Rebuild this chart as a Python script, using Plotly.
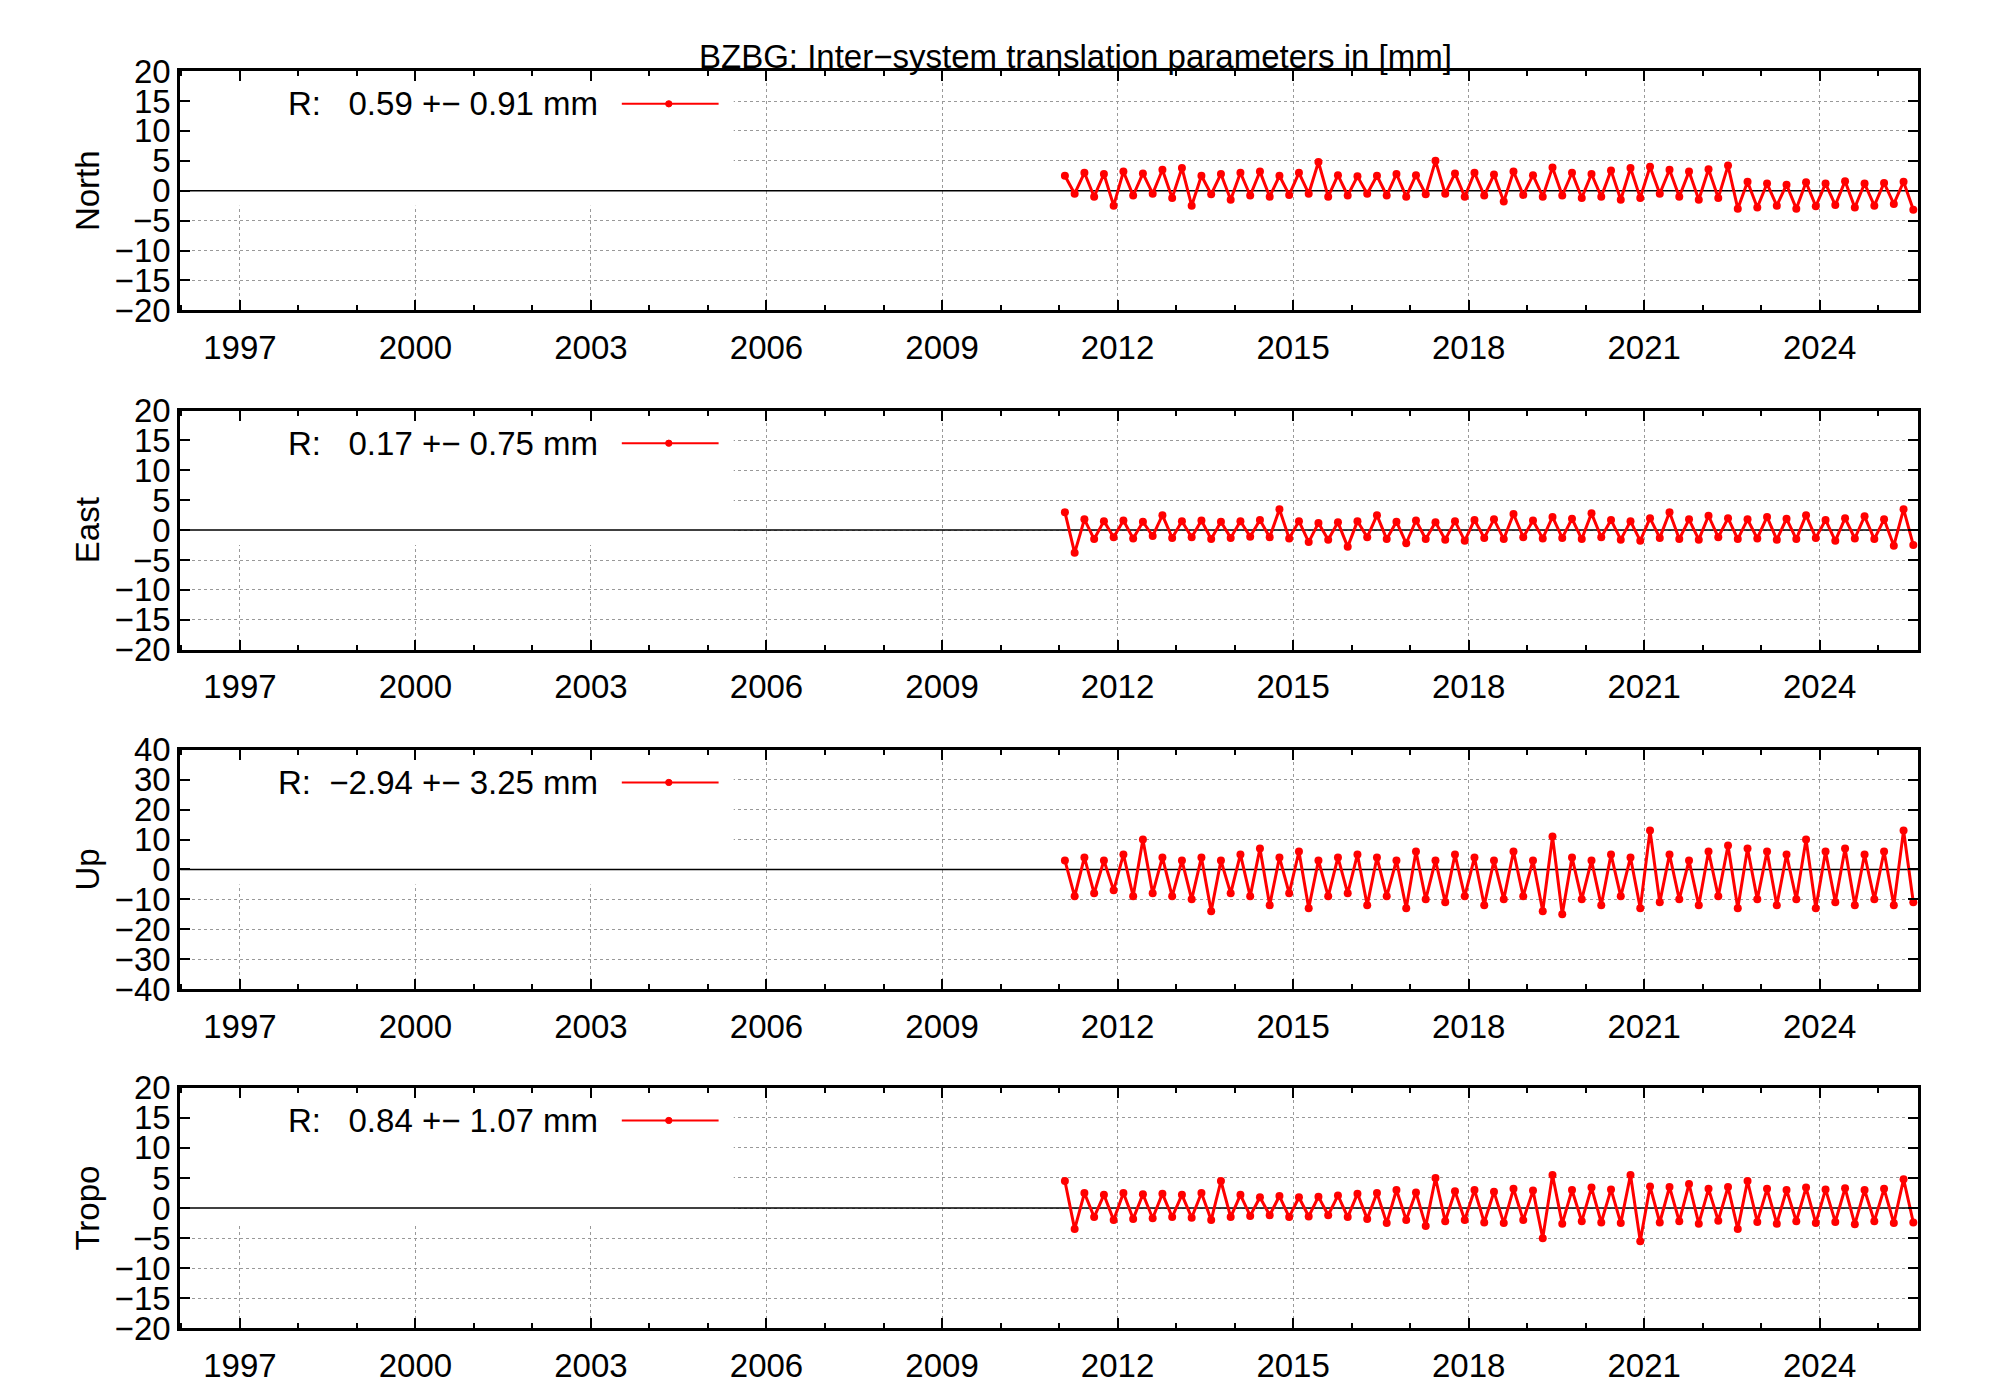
import numpy as np
import plotly.graph_objects as go

title = "BZBG: Inter\u2212system translation parameters in [mm]"
components = ["North", "East", "Up", "Tropo"]
legend_texts = ["R:   0.59 +\u2212 0.91 mm", "R:   0.17 +\u2212 0.75 mm",
                "R:  \u22122.94 +\u2212 3.25 mm", "R:   0.84 +\u2212 1.07 mm"]
yranges = [20, 20, 40, 20]
ydticks = [5, 5, 10, 5]
t_start, t_end = 2011.1, 2025.6

north = [2.5,-0.5,3,-1,2.8,-2.5,3.2,-0.8,2.9,-0.5,3.5,-1.2,3.8,-2.5,2.5,-0.6,
         2.8,-1.5,3,-0.8,3.2,-1,2.5,-0.7,3,-0.5,4.8,-1,2.6,-0.8,2.4,
         -0.5,2.5,-0.8,2.8,-1,2.6,-0.6,5,-0.5,2.9,-1,3,-0.8,2.7,-1.8,3.2,-0.7,2.6,-1,3.9,-0.8,3,-1.2,2.8,-1,3.4,-1.5,3.8,-1.2,4,
         -0.5,3.5,-1,3.2,-1.5,3.6,-1.2,4.2,
         -3,1.5,-2.8,1.2,-2.5,1,-3,1.4,-2.6,1.2,-2.4,1.6,-2.8,1.2,-2.5,1.3,-2.2,1.5,-3.2]
east = [3,-3.8,1.8,-1.5,1.5,-1.2,1.6,-1.4,1.4,-1,2.5,-1.3,1.5,-1.2,1.6,-1.5,
        1.4,-1.3,1.5,-1.1,1.7,-1.2,3.5,-1.4,1.5,-2,1.2,-1.6,1.3,-2.8,1.5,
        -1.2,2.5,-1.5,1.4,-2.2,1.6,-1.5,1.3,-1.6,1.5,-1.8,1.7,-1.3,1.8,-1.5,2.7,-1.2,1.6,-1.4,2.2,-1.3,1.9,-1.5,2.8,-1.2,1.7,-1.6,1.5,-1.8,2,
        -1.3,3,-1.5,1.8,-1.6,2.4,-1.2,2,
        -1.5,1.8,-1.4,2.2,-1.6,1.9,-1.5,2.5,-1.3,1.7,-1.8,2,-1.4,2.3,-1.5,1.8,-2.6,3.5,-2.5]
up = [3,-9,4,-8,3,-7,5,-9,10,-8,4,-9,3,-10,4,-14,
      3,-8,5,-9,7,-12,4,-8,6,-13,3,-9,4,-8,5,
      -12,4,-9,3,-13,6,-10,3,-11,5,-9,4,-12,3,-10,6,-9,3,-14,11,-15,4,-10,3,-12,5,-9,4,-13,13,
      -11,5,-10,3,-12,6,-9,8,
      -13,7,-10,6,-12,5,-10,10,-13,6,-11,7,-12,5,-10,6,-12,13,-11]
tropo = [4.5,-3.5,2.5,-1.5,2.2,-2,2.5,-1.8,2.3,-1.7,2.4,-1.5,2.2,-1.6,2.5,-2,
         4.5,-1.5,2.2,-1.3,1.8,-1.2,2,-1.5,1.8,-1.4,1.9,-1.2,2.1,-1.5,2.4,
         -1.8,2.5,-2.5,3,-2,2.6,-3,5,-2.2,2.8,-2,3,-2.4,2.7,-2.5,3.2,-2,2.9,-5,5.5,-2.6,3,-2.2,3.4,-2.4,3.1,-2.5,5.5,-5.5,3.6,
         -2.4,3.5,-2.2,4,-2.6,3.2,-2.1,3.5,
         -3.5,4.5,-2.3,3.2,-2.6,3,-2.2,3.4,-2.5,3.1,-2.3,3.3,-2.7,3,-2.2,3.2,-2.5,4.8,-2.4]
series = [north, east, up, tropo]

domains = [[0.7914, 0.9669], [0.5424, 0.7179], [0.2934, 0.4690], [0.0445, 0.2210]]
xdom = [0.0861, 0.955]
xr = [1995.98, 2025.68]
font = dict(family="Liberation Sans, Arial, sans-serif", size=33, color="black")

fig = go.Figure()
shapes, annots = [], []
for i, (name, vals) in enumerate(zip(components, series)):
    k = "" if i == 0 else str(i + 1)
    xa, ya = "x" + k, "y" + k
    t = np.linspace(t_start, t_end, len(vals))
    fig.add_trace(go.Scatter(x=t, y=vals, xaxis=xa, yaxis=ya, mode="lines+markers",
                             line=dict(color="red", width=3), marker=dict(color="red", size=8),
                             showlegend=False))
    R = yranges[i]
    common = dict(showline=True, linecolor="black", linewidth=3, mirror="allticks",
                  ticks="inside", ticklen=10, tickwidth=1.5, tickcolor="black",
                  showgrid=True, gridcolor="#999", griddash="dot", gridwidth=1,
                  zeroline=False, tickfont=font)
    fig.layout["xaxis" + k] = dict(common, domain=xdom, range=xr, anchor=ya,
                                   tick0=1997, dtick=3, ticklabelstandoff=6,
                                   minor=dict(dtick=1, tick0=1997, ticks="inside", ticklen=5, tickcolor="black"))
    fig.layout["yaxis" + k] = dict(common, domain=domains[i], range=[-R, R], anchor=xa,
                                   dtick=ydticks[i], title=dict(text=name, font=font, standoff=6))
    shapes.append(dict(type="rect", xref=xa, yref=ya, x0=xr[0], x1=2005.44, y0=-R * 0.125, y1=R,
                       fillcolor="white", line=dict(width=0), layer="between"))
    shapes.append(dict(type="line", xref=xa, yref=ya, x0=xr[0], x1=xr[1], y0=0, y1=0,
                       line=dict(color="black", width=1.5), layer="between"))
    ly = domains[i][1] - 0.024
    annots.append(dict(text=legend_texts[i], xref="paper", yref="paper", x=0.2961, y=ly,
                       xanchor="right", yanchor="middle", showarrow=False, font=font))
    shapes.append(dict(type="line", xref="paper", yref="paper", x0=0.3069, x1=0.3553, y0=ly, y1=ly,
                       line=dict(color="red", width=2)))
    shapes.append(dict(type="circle", xref="paper", yref="paper", x0=0.3288, x1=0.3320,
                       y0=ly - 0.0023, y1=ly + 0.0023, fillcolor="red", line=dict(color="red", width=1)))

annots.append(dict(text=title, xref="paper", yref="paper", x=0.5336, y=0.993, xanchor="center",
                   yanchor="top", showarrow=False, font=font))
fig.update_layout(width=2000, height=1400, margin=dict(l=0, r=0, t=0, b=0),
                  plot_bgcolor="white", paper_bgcolor="white", shapes=shapes, annotations=annots,
                  font=font)
fig.write_html("out.html")
